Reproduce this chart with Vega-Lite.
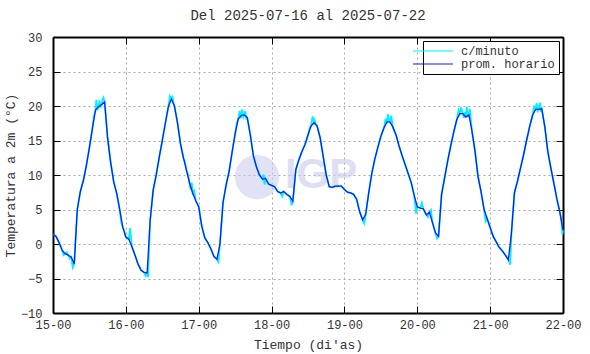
{
  "$schema": "https://vega.github.io/schema/vega-lite/v6.json",
  "width": 510,
  "height": 276,
  "autosize": {"type": "none"},
  "padding": {"left": 53, "top": 37, "right": 27, "bottom": 41},
  "title": {"text": "Del 2025-07-16 al 2025-07-22", "font": "Liberation Mono", "fontSize": 14, "fontWeight": "normal", "color": "#333", "offset": 8},
  "config": {
    "view": {"stroke": null},
    "axis": {
      "labelFont": "Liberation Mono", "labelFontSize": 12, "labelColor": "#333",
      "titleFont": "Liberation Mono", "titleFontSize": 13, "titleFontWeight": "normal", "titleColor": "#333",
      "domainColor": "#000", "domainWidth": 2, "tickColor": "#000", "tickWidth": 1, "tickSize": -7,
      "gridColor": "#a8a8a8", "gridDash": [2, 3], "gridWidth": 1
    },
    "legend": {
      "orient": "top-right", "offset": 4, "strokeColor": "#000", "fillColor": "#fff", "padding": 4,
      "labelFont": "Liberation Mono", "labelFontSize": 12, "labelColor": "#333", "rowPadding": 1
    }
  },
  "datasets": {
    "temp": [
      {"t":0,"v":1.4,"k":1},{"t":1,"v":1.1,"k":1},{"t":2,"v":0.2,"k":1},{"t":3,"v":-0.9,"k":1},{"t":4,"v":-1.4,"k":1},{"t":5,"v":-1.6,"k":1},{"t":6,"v":-1.9,"k":1},{"t":7,"v":-2.9,"k":1},{"t":8,"v":5.0,"k":1},{"t":9,"v":7.6,"k":1},{"t":10,"v":9.2,"k":1},{"t":11,"v":11.4,"k":1},{"t":12,"v":14.0,"k":1},{"t":13,"v":16.8,"k":1},{"t":14,"v":19.4,"k":1},{"t":15,"v":19.9,"k":1},{"t":16,"v":20.2,"k":1},{"t":17,"v":20.6,"k":1},{"t":18,"v":15.3,"k":1},{"t":19,"v":11.8,"k":1},{"t":20,"v":9.0,"k":1},{"t":21,"v":7.3,"k":1},{"t":22,"v":4.9,"k":1},{"t":23,"v":2.4,"k":1},
      {"t":24,"v":1.0,"k":1},{"t":25,"v":0.7,"k":1},{"t":26,"v":-0.4,"k":1},{"t":27,"v":-1.6,"k":1},{"t":28,"v":-2.9,"k":1},{"t":29,"v":-3.8,"k":1},{"t":30,"v":-4.1,"k":1},{"t":31,"v":-4.2,"k":1},{"t":32,"v":3.4,"k":1},{"t":33,"v":7.8,"k":1},{"t":34,"v":10.0,"k":1},{"t":35,"v":12.6,"k":1},{"t":36,"v":15.0,"k":1},{"t":37,"v":17.5,"k":1},{"t":38,"v":19.9,"k":1},{"t":39,"v":21.0,"k":1},{"t":40,"v":20.0,"k":1},{"t":41,"v":17.6,"k":1},{"t":42,"v":14.5,"k":1},{"t":43,"v":12.4,"k":1},{"t":44,"v":10.6,"k":1},{"t":45,"v":8.8,"k":1},{"t":46,"v":7.4,"k":1},{"t":47,"v":6.3,"k":1},
      {"t":48,"v":5.4,"k":1},{"t":49,"v":2.6,"k":1},{"t":50,"v":0.9,"k":1},{"t":51,"v":0.2,"k":1},{"t":52,"v":-0.7,"k":1},{"t":53,"v":-1.8,"k":1},{"t":54,"v":-2.2,"k":1},{"t":55,"v":0.0,"k":1},{"t":56,"v":6.0,"k":1},{"t":57,"v":8.5,"k":1},{"t":58,"v":10.5,"k":1},{"t":59,"v":13.3,"k":1},{"t":60,"v":16.0,"k":1},{"t":61,"v":18.1,"k":1},{"t":62,"v":18.6,"k":1},{"t":63,"v":18.7,"k":1},{"t":64,"v":18.3,"k":1},{"t":65,"v":15.8,"k":1},{"t":66,"v":12.8,"k":1},{"t":67,"v":11.2,"k":1},{"t":68,"v":10.0,"k":1},{"t":69,"v":9.4,"k":1},{"t":70,"v":9.5,"k":1},{"t":71,"v":8.7,"k":1},
      {"t":72,"v":8.5,"k":1},{"t":73,"v":8.3,"k":1},{"t":74,"v":7.6,"k":1},{"t":75,"v":7.4,"k":1},{"t":76,"v":7.6,"k":1},{"t":77,"v":7.2,"k":1},{"t":78,"v":6.9,"k":1},{"t":79,"v":6.2,"k":1},{"t":80,"v":10.8,"k":1},{"t":81,"v":12.2,"k":1},{"t":82,"v":13.4,"k":1},{"t":83,"v":14.4,"k":1},{"t":84,"v":15.8,"k":1},{"t":85,"v":17.1,"k":1},{"t":86,"v":17.6,"k":1},{"t":87,"v":17.1,"k":1},{"t":88,"v":15.4,"k":1},{"t":89,"v":12.7,"k":1},{"t":90,"v":10.0,"k":1},{"t":91,"v":8.3,"k":1},{"t":92,"v":8.2,"k":1},{"t":93,"v":8.4,"k":1},{"t":94,"v":8.4,"k":1},{"t":95,"v":8.4,"k":1},
      {"t":96,"v":7.9,"k":1},{"t":97,"v":7.5,"k":1},{"t":98,"v":7.4,"k":1},{"t":99,"v":7.2,"k":1},{"t":100,"v":6.5,"k":1},{"t":101,"v":4.7,"k":1},{"t":102,"v":3.5,"k":1},{"t":103,"v":4.3,"k":1},{"t":104,"v":7.4,"k":1},{"t":105,"v":10.2,"k":1},{"t":106,"v":12.3,"k":1},{"t":107,"v":14.0,"k":1},{"t":108,"v":15.6,"k":1},{"t":109,"v":16.8,"k":1},{"t":110,"v":17.7,"k":1},{"t":111,"v":17.7,"k":1},{"t":112,"v":16.9,"k":1},{"t":113,"v":15.8,"k":1},{"t":114,"v":14.2,"k":1},{"t":115,"v":12.8,"k":1},{"t":116,"v":11.5,"k":1},{"t":117,"v":10.2,"k":1},{"t":118,"v":8.9,"k":1},{"t":119,"v":7.0,"k":1},
      {"t":120,"v":5.4,"k":1},{"t":121,"v":5.2,"k":1},{"t":122,"v":5.1,"k":1},{"t":123,"v":4.2,"k":1},{"t":124,"v":4.6,"k":1},{"t":125,"v":3.1,"k":1},{"t":126,"v":1.6,"k":1},{"t":127,"v":1.1,"k":1},{"t":128,"v":7.2,"k":1},{"t":129,"v":9.6,"k":1},{"t":130,"v":12.0,"k":1},{"t":131,"v":14.2,"k":1},{"t":132,"v":16.2,"k":1},{"t":133,"v":18.0,"k":1},{"t":134,"v":18.9,"k":1},{"t":135,"v":18.9,"k":1},{"t":136,"v":18.4,"k":1},{"t":137,"v":18.7,"k":1},{"t":138,"v":16.4,"k":1},{"t":139,"v":13.5,"k":1},{"t":140,"v":9.8,"k":1},{"t":141,"v":7.6,"k":1},{"t":142,"v":5.0,"k":1},{"t":143,"v":3.7,"k":1},
      {"t":144,"v":2.4,"k":1},{"t":145,"v":1.1,"k":1},{"t":146,"v":0.3,"k":1},{"t":147,"v":-0.5,"k":1},{"t":148,"v":-1.0,"k":1},{"t":149,"v":-1.6,"k":1},{"t":150,"v":-2.3,"k":1},{"t":151,"v":1.5,"k":1},{"t":152,"v":7.4,"k":1},{"t":153,"v":9.1,"k":1},{"t":154,"v":11.0,"k":1},{"t":155,"v":12.9,"k":1},{"t":156,"v":15.0,"k":1},{"t":157,"v":17.0,"k":1},{"t":158,"v":18.7,"k":1},{"t":159,"v":19.5,"k":1},{"t":160,"v":19.5,"k":1},{"t":161,"v":19.6,"k":1},{"t":162,"v":17.0,"k":1},{"t":163,"v":13.4,"k":1},{"t":164,"v":11.0,"k":1},{"t":165,"v":8.8,"k":1},{"t":166,"v":6.5,"k":1},{"t":167,"v":4.5,"k":1},{"t":168,"v":2.0,"k":1},
      {"t":2.5,"v":-0.3},{"t":3.5,"v":-1.6},{"t":4.5,"v":-1.2},{"t":5.5,"v":-2.1},{"t":6.5,"v":-3.4},{"t":7.5,"v":1.3},
      {"t":13.5,"v":18.6},{"t":14.3,"v":20.9},{"t":14.6,"v":19.4},{"t":15.3,"v":20.8},{"t":15.6,"v":19.7},{"t":16.3,"v":20.9},{"t":16.6,"v":21.2},
      {"t":22.5,"v":3.1},{"t":23.5,"v":1.9},{"t":25.4,"v":2.3},
      {"t":30.5,"v":-4.6},{"t":31.3,"v":-4.8},
      {"t":37.6,"v":18.9},{"t":38.5,"v":21.4},{"t":39.3,"v":21.5},{"t":39.7,"v":20.4},
      {"t":43.5,"v":11.9},{"t":44.5,"v":10.1},{"t":45.3,"v":7.9},{"t":45.7,"v":8.9},{"t":46.5,"v":7.7},
      {"t":53.5,"v":-2.0},{"t":54.5,"v":-2.6},
      {"t":60.6,"v":17.6},{"t":61.5,"v":19.3},{"t":61.8,"v":18.2},{"t":62.3,"v":19.5},{"t":62.7,"v":18.4},{"t":63.3,"v":19.3},{"t":63.7,"v":18.2},
      {"t":69.3,"v":10.1},{"t":69.7,"v":8.6},
      {"t":75.5,"v":6.9},{"t":78.6,"v":5.6},
      {"t":84.6,"v":16.9},{"t":85.5,"v":18.5},{"t":86.2,"v":17.9},{"t":86.6,"v":17.3},
      {"t":102.5,"v":3.0},
      {"t":109.5,"v":18.0},{"t":110.3,"v":18.8},{"t":110.7,"v":17.9},{"t":111.4,"v":18.6},
      {"t":119.6,"v":4.4},
      {"t":121.5,"v":5.9},{"t":122.5,"v":4.6},{"t":123.5,"v":3.9},{"t":124.5,"v":4.9},
      {"t":126.5,"v":0.8},
      {"t":133.6,"v":19.4},{"t":134.4,"v":19.8},{"t":135.3,"v":18.3},{"t":135.7,"v":19.1},{"t":136.3,"v":19.9},{"t":136.7,"v":18.6},{"t":137.3,"v":19.6},
      {"t":142.5,"v":3.3},
      {"t":149.5,"v":-1.9},{"t":150.6,"v":-3.0},
      {"t":158.5,"v":19.9},{"t":159.3,"v":20.4},{"t":159.7,"v":19.3},{"t":160.4,"v":20.5},{"t":160.7,"v":19.4},
      {"t":167.5,"v":3.4},{"t":167.8,"v":1.4}
    ]
  },
  "resolve": {"axis": {"x": "independent", "y": "independent"}},
  "layer": [
    {
      "data": {"values": [{"t": 67.2, "v": 9.7}]},
      "mark": {"type": "point", "filled": true, "size": 1960, "color": "#c9cbee", "opacity": 0.55, "shape": "circle"},
      "encoding": {
        "x": {"field": "t", "type": "quantitative", "scale": {"domain": [0, 168], "nice": false, "zero": false}, "axis": null},
        "y": {"field": "v", "type": "quantitative", "scale": {"domain": [-10, 30], "nice": false, "zero": false}, "axis": null}
      }
    },
    {
      "data": {"values": [{"t": 88.3, "v": 10, "s": "IGP"}]},
      "mark": {"type": "text", "font": "Liberation Sans", "fontWeight": "bold", "fontSize": 42, "color": "#c9cbee", "opacity": 0.6, "baseline": "middle", "align": "center"},
      "encoding": {
        "x": {"field": "t", "type": "quantitative", "axis": null},
        "y": {"field": "v", "type": "quantitative", "axis": null},
        "text": {"field": "s"}
      }
    },
    {
      "data": {"name": "temp"},
      "mark": {"type": "line", "strokeWidth": 1.8, "interpolate": "linear"},
      "encoding": {
        "x": {"field": "t", "type": "quantitative", "title": "Tiempo (di'as)",
          "axis": {"orient": "bottom", "values": [0, 24, 48, 72, 96, 120, 144, 168], "labelExpr": "format(15 + datum.value / 24, 'd') + '-00'", "labelPadding": 13, "titlePadding": 8, "grid": true, "labelFlush": false}},
        "y": {"field": "v", "type": "quantitative", "title": "Temperatura a 2m (°C)",
          "axis": {"orient": "left", "values": [-10, -5, 0, 5, 10, 15, 20, 25, 30], "labelPadding": 18, "titlePadding": 3, "grid": true}},
        "color": {"datum": "c/minuto", "type": "nominal",
          "scale": {"domain": ["c/minuto", "prom. horario"], "range": ["#00f0ff", "#0a1eff"]},
          "legend": {"title": null, "symbolType": "M-4,0H4", "symbolSize": 100, "symbolStrokeWidth": 1.2, "labelOffset": 22,
            "labelExpr": "datum.label == 'c/minuto' ? '\u00a0\u00a0\u00a0\u00a0\u00a0c/minuto' : datum.label"}}
      }
    },
    {
      "data": {"name": "temp"},
      "transform": [{"filter": "datum.k == 1"}],
      "mark": {"type": "line", "strokeWidth": 1.3},
      "encoding": {
        "x": {"field": "t", "type": "quantitative", "axis": {"orient": "top", "values": [0, 24, 48, 72, 96, 120, 144, 168], "labels": false, "title": null, "grid": false}},
        "y": {"field": "v", "type": "quantitative", "axis": {"orient": "right", "values": [-10, -5, 0, 5, 10, 15, 20, 25, 30], "labels": false, "title": null, "grid": false}},
        "color": {"datum": "prom. horario", "type": "nominal"}
      }
    }
  ]
}
